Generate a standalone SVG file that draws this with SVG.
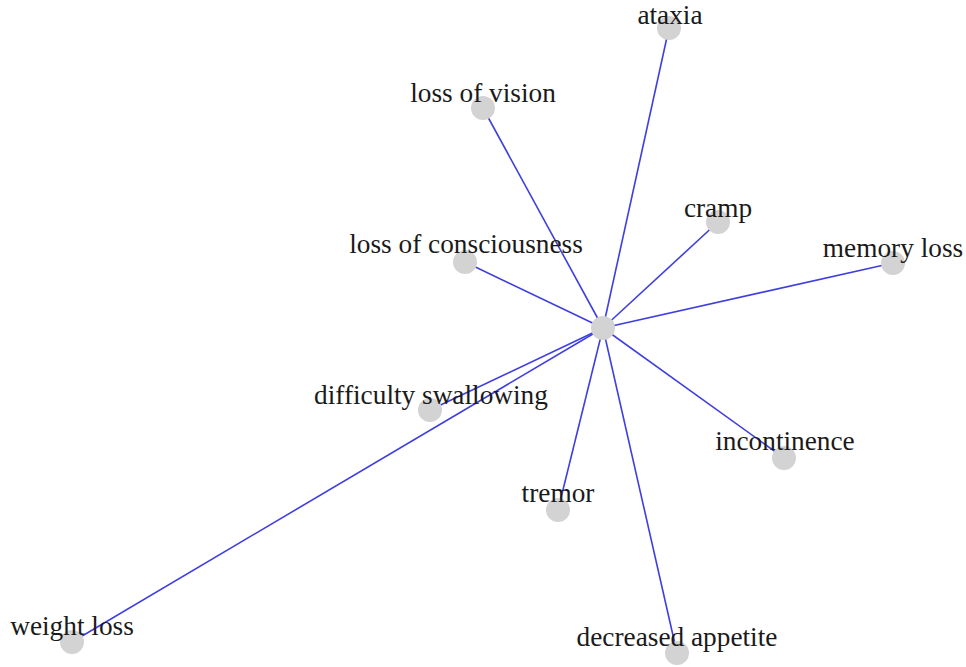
<svg xmlns="http://www.w3.org/2000/svg" width="966" height="667" viewBox="0 0 966 667">
<style>
.e{stroke:#3f3fe0;stroke-width:1.6;fill:none}
.n{fill:#d3d3d3}
.t{font-family:"Liberation Serif","Times New Roman",serif;font-size:27.3px;fill:#1a1a1a;text-anchor:middle}
</style>
<rect width="966" height="667" fill="#fff"/>
<g id="edges">
<line class="e" x1="603" y1="328" x2="669" y2="28"/>
<line class="e" x1="603" y1="328" x2="483" y2="108"/>
<line class="e" x1="603" y1="328" x2="718" y2="222"/>
<line class="e" x1="603" y1="328" x2="893" y2="263"/>
<line class="e" x1="603" y1="328" x2="465" y2="262"/>
<line class="e" x1="603" y1="328" x2="430" y2="410"/>
<line class="e" x1="603" y1="328" x2="784" y2="458"/>
<line class="e" x1="603" y1="328" x2="558" y2="510"/>
<line class="e" x1="603" y1="328" x2="677" y2="653"/>
<line class="e" x1="603" y1="328" x2="72" y2="642"/>
</g>
<g id="center"><circle class="n" cx="603" cy="328" r="12"/></g>
<g id="ataxia"><circle class="n" cx="669" cy="28" r="12"/><text class="t" x="670" y="24">ataxia</text></g>
<g id="loss-of-vision"><circle class="n" cx="483" cy="108" r="12"/><text class="t" x="483" y="102">loss of vision</text></g>
<g id="cramp"><circle class="n" cx="718" cy="222" r="12"/><text class="t" x="718" y="217">cramp</text></g>
<g id="memory-loss"><circle class="n" cx="893" cy="263" r="12"/><text class="t" x="893" y="257">memory loss</text></g>
<g id="loss-of-consciousness"><circle class="n" cx="465" cy="262" r="12"/><text class="t" x="466" y="253">loss of consciousness</text></g>
<g id="difficulty-swallowing"><circle class="n" cx="430" cy="410" r="12"/><text class="t" x="431" y="404">difficulty swallowing</text></g>
<g id="incontinence"><circle class="n" cx="784" cy="458" r="12"/><text class="t" x="785" y="450">incontinence</text></g>
<g id="tremor"><circle class="n" cx="558" cy="510" r="12"/><text class="t" x="558" y="502">tremor</text></g>
<g id="decreased-appetite"><circle class="n" cx="677" cy="653" r="12"/><text class="t" x="677" y="646">decreased appetite</text></g>
<g id="weight-loss"><circle class="n" cx="72" cy="642" r="12"/><text class="t" x="72" y="635">weight loss</text></g>
</svg>
